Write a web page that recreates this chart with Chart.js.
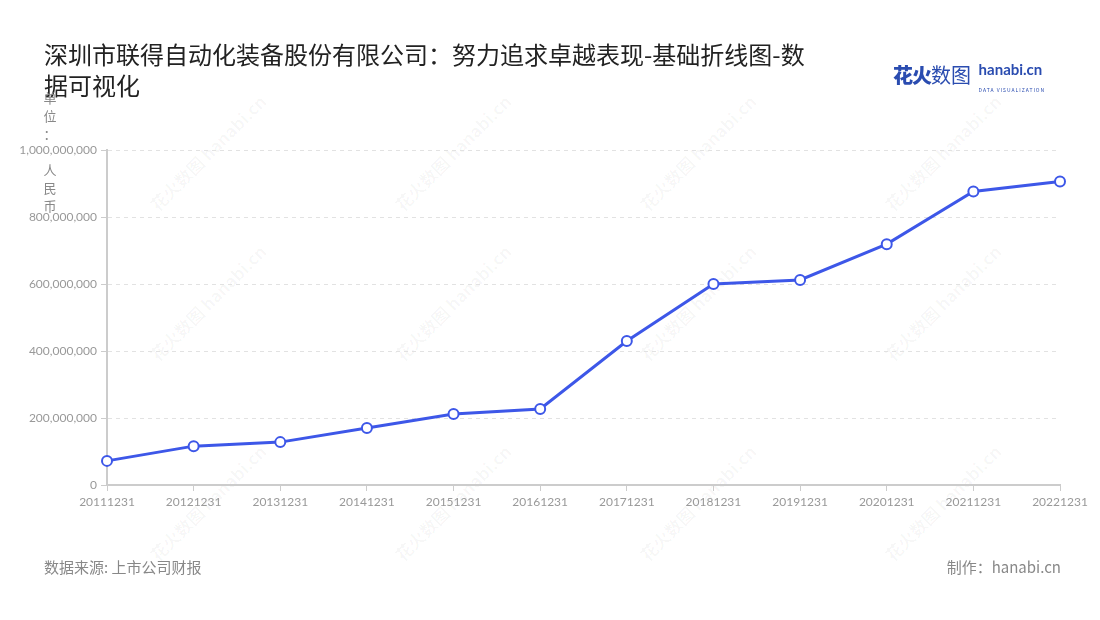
<!DOCTYPE html>
<html>
<head>
<meta charset="utf-8">
<script src="https://cdn.jsdelivr.net/npm/chart.js@4.4.1/dist/chart.umd.min.js"></script>
<style>
  html, body { margin: 0; padding: 0; background: #fff; }
  body { width: 1100px; height: 620px; position: relative; overflow: hidden;
    font-family: "Noto Sans CJK SC", "Noto Sans", sans-serif; }
  #wrap { position: absolute; left: 0; top: 0; width: 1100px; height: 620px; }
  .title { position: absolute; left: 44px; top: 38px; font-size: 24px; line-height: 31px; color: #222; }
  .ylab { position: absolute; left: 43px; font-size: 13px; color: #888; width: 14px; text-align: center; }
  .foot { position: absolute; top: 556px; font-size: 15px; color: #888; }
  .logo { position: absolute; left: 893px; top: 60px; }
  .wm { position: absolute; color: rgba(0,0,0,0.035); font-size: 17px; font-weight: bold;
    transform: rotate(-45deg); white-space: nowrap; }
</style>
</head>
<body>
<div id="wms"></div>
<div id="wrap"><canvas id="chart" width="1100" height="620"></canvas></div>
<div class="title">深圳市联得自动化装备股份有限公司：努力追求卓越表现-基础折线图-数<br>据可视化</div>
<div class="ylab" style="top:88px">单</div>
<div class="ylab" style="top:106px">位</div>
<div class="ylab" style="top:124px">：</div>
<div class="ylab" style="top:160px">人</div>
<div class="ylab" style="top:178px">民</div>
<div class="ylab" style="top:196px">币</div>
<div class="foot" style="left:44px">数据来源: 上市公司财报</div>
<div class="foot" style="right:39px">制作：hanabi.cn</div>
<div class="logo">
  <span style="font-size:20px;font-weight:900;color:#2a4cb0;letter-spacing:-1px">花火</span><span style="font-size:20px;color:#2a4cb0">数图</span>
  <span style="display:inline-block;vertical-align:top;margin-left:4px;line-height:1">
    <span style="font-size:15px;font-weight:bold;color:#2a4cb0;font-family:Lato,sans-serif">hanabi.cn</span><br>
    <span style="font-size:5px;color:#2a4cb0;letter-spacing:1px">DATA VISUALIZATION</span>
  </span>
</div>
<script>
const categories = ['20111231', '20121231', '20131231', '20141231', '20151231', '20161231',
  '20171231', '20181231', '20191231', '20201231', '20211231', '20221231']
const values = [72000000, 116000000, 128000000, 170000000, 212000000, 227000000,
  430000000, 600000000, 612000000, 719000000, 876000000, 906000000]
const yTicks = [0, 200000000, 400000000, 600000000, 800000000, 1000000000]

// faint watermarks
const wmXs = [130, 375, 620, 865]
const wmYs = [140, 290, 490]
const wms = document.getElementById('wms')
wmXs.forEach(x => wmYs.forEach(y => {
  const d = document.createElement('div')
  d.className = 'wm'
  d.style.left = x + 'px'
  d.style.top = y + 'px'
  d.textContent = '花火数图 hanabi.cn'
  wms.appendChild(d)
}))

new Chart(document.getElementById('chart'), {
  type: 'line',
  data: {
    labels: categories,
    datasets: [{
      data: values,
      borderColor: '#3d57e8',
      borderWidth: 3,
      backgroundColor: '#fff',
      pointBackgroundColor: '#fff',
      pointBorderColor: '#3d57e8',
      pointBorderWidth: 2,
      pointRadius: 5,
      tension: 0,
    }],
  },
  options: {
    responsive: false,
    animation: false,
    layout: { padding: { top: 150, right: 40, left: 0, bottom: 0 } },
    plugins: { legend: { display: false }, tooltip: { enabled: false } },
    scales: {
      x: {
        offset: false,
        afterFit: s => { s.height = 135 },
        border: { color: '#ccc', width: 2 },
        grid: { drawOnChartArea: false, tickLength: 6, tickColor: '#ccc', tickWidth: 1 },
        ticks: { color: '#999', font: { size: 12, family: 'Lato' }, maxRotation: 0, autoSkip: false, padding: 4 },
      },
      y: {
        min: 0,
        max: 1000000000,
        afterFit: s => { s.width = 107 },
        afterBuildTicks: s => { s.ticks = yTicks.map(v => ({ value: v })) },
        border: { color: '#ccc', width: 2, dash: [4, 4] },
        grid: { color: '#e2e2e2', tickLength: 6, tickColor: '#ccc', tickBorderDash: [] },
        ticks: {
          color: '#999',
          font: { size: 12, family: 'Lato' },
          padding: 4,
          callback: v => v.toLocaleString('en-US'),
        },
      },
    },
  },
})
</script>
</body>
</html>
